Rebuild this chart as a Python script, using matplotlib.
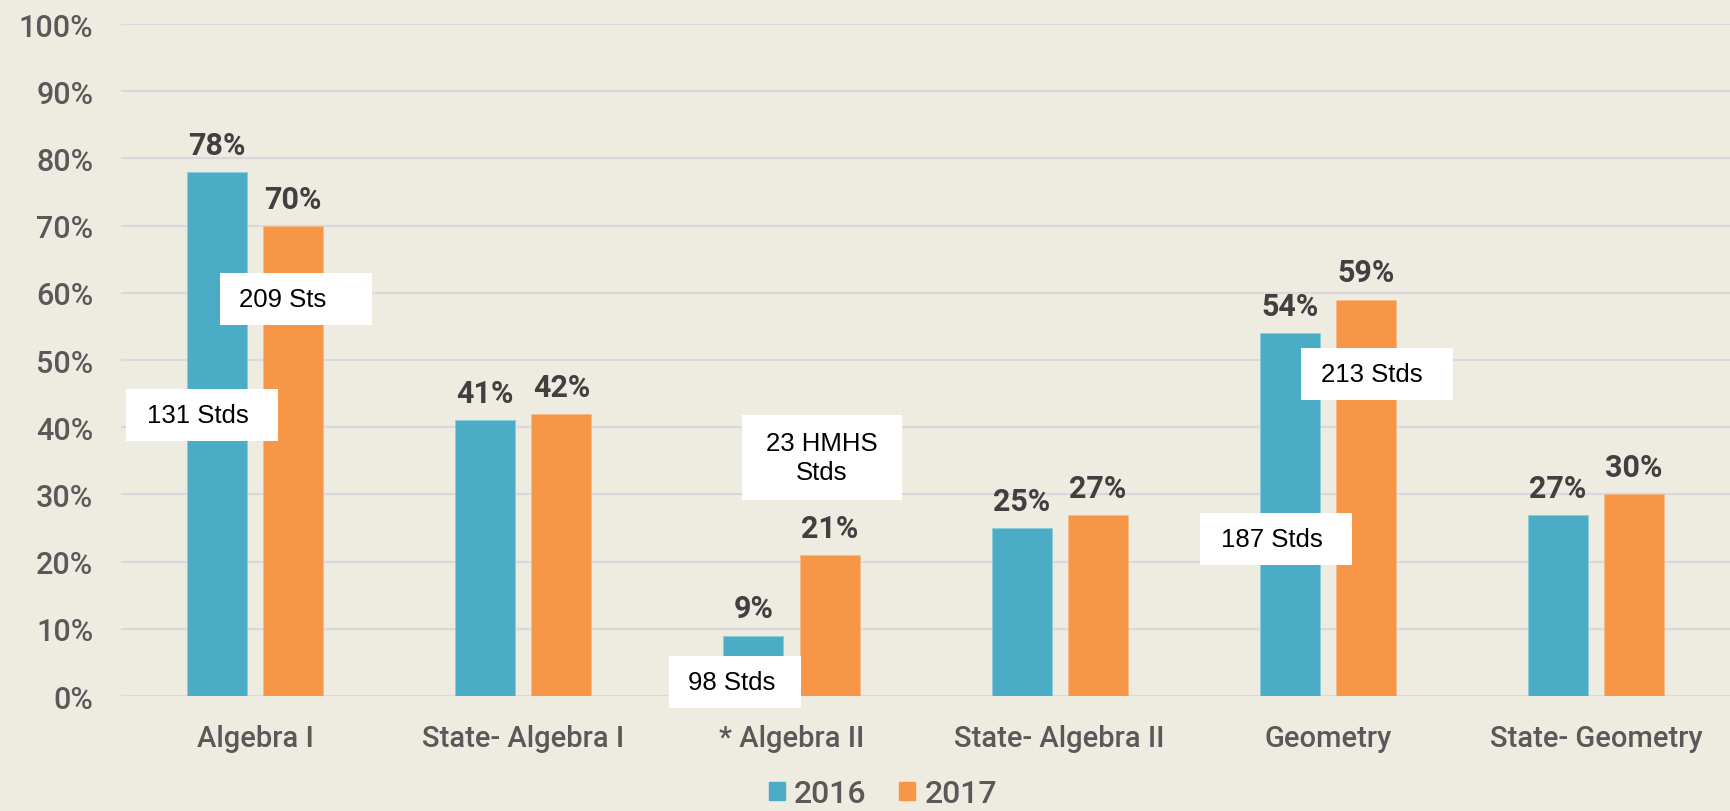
import matplotlib
matplotlib.use("Agg")
import matplotlib.pyplot as plt
from matplotlib.patches import Rectangle, Patch
import numpy as np

categories = ["Algebra I", "State- Algebra I", "* Algebra II",
              "State- Algebra II", "Geometry", "State- Geometry"]
pct_2016 = [78, 41, 9, 25, 54, 27]
pct_2017 = [70, 42, 21, 27, 59, 30]
series_names = ["2016", "2017"]
yticks = [0, 10, 20, 30, 40, 50, 60, 70, 80, 90, 100]

# student count call-outs: text, box (x0, x1, y0, y1) in data units, text centre
callouts = [
    ("131 Stds", (-0.481, 0.085, 37.9, 45.7), (-0.215, 41.8)),
    ("209 Sts", (-0.131, 0.436, 55.2, 62.9), (0.104, 59.1)),
    ("98 Stds", (1.543, 2.035, -1.8, 5.95), (1.778, 2.1)),
    ("23 HMHS\nStds", (1.815, 2.412, 29.2, 41.8), (2.114, 35.5)),
    ("213 Stds", (3.900, 4.466, 44.0, 51.8), (4.164, 47.9)),
    ("187 Stds", (3.523, 4.090, 19.5, 27.2), (3.792, 23.4)),
]

blue = "#4BACC6"
orange = "#F79646"
bg = "#EEECE1"
tick_col = "#595959"
label_col = "#404040"

plt.rcParams["font.family"] = ["Roboto", "DejaVu Sans"]

fig = plt.figure(figsize=(17.31, 8.12), dpi=100, facecolor=bg)
ax = fig.add_axes([0.0699, 0.1416, 0.9296, 0.8276], facecolor=bg)

x = np.arange(len(categories))
w = 0.224
off = 0.142
b1 = ax.bar(x - off, pct_2016, w, color=blue, edgecolor="#8CCBDB", linewidth=0.6, zorder=3)
b2 = ax.bar(x + off, pct_2017, w, color=orange, edgecolor="#F9B98A", linewidth=0.6, zorder=3)

for bars in (b1, b2):
    for r in bars:
        ax.annotate(f"{int(r.get_height())}%", (r.get_x() + r.get_width() / 2, r.get_height()),
                    xytext=(0, 13), textcoords="offset points", ha="center", va="baseline",
                    fontsize=22, fontweight="bold", color=label_col, zorder=5)

for txt, (x0, x1, y0, y1), (tx, ty) in callouts:
    ax.add_patch(Rectangle((x0, y0), x1 - x0, y1 - y0, facecolor="white",
                           edgecolor="none", zorder=6, clip_on=False))
    ax.text(tx, ty, txt, ha="center", va="center", fontsize=18.5, color="black",
            family=["Liberation Sans", "DejaVu Sans"], zorder=7, linespacing=1.25)

ax.set_xlim(-0.5, len(categories) - 0.5)
ax.set_ylim(0, 100)
ax.set_yticks(yticks)
ax.set_yticklabels([f"{t}%" for t in yticks], fontweight="medium")
ax.set_xticks(x)
ax.set_xticklabels(categories, fontweight="medium")
ax.tick_params(axis="y", length=0, pad=20, labelsize=22, labelcolor=tick_col)
ax.tick_params(axis="x", length=0, pad=20, labelsize=21, labelcolor=tick_col)
ax.grid(axis="y", color="#DAD8DE", linewidth=1.6, zorder=0)
for s in ax.spines.values():
    s.set_visible(False)

handles = [Patch(color=blue), Patch(color=orange)]
fig.legend(handles, series_names, loc="center", bbox_to_anchor=(0.510, 0.021),
           ncol=2, frameon=False, prop={"size": 23, "weight": "medium"}, labelcolor=tick_col,
           handlelength=0.5, handleheight=0.5, handletextpad=0.3, columnspacing=1.0)

fig.savefig("out.png", dpi=100, facecolor=bg)
